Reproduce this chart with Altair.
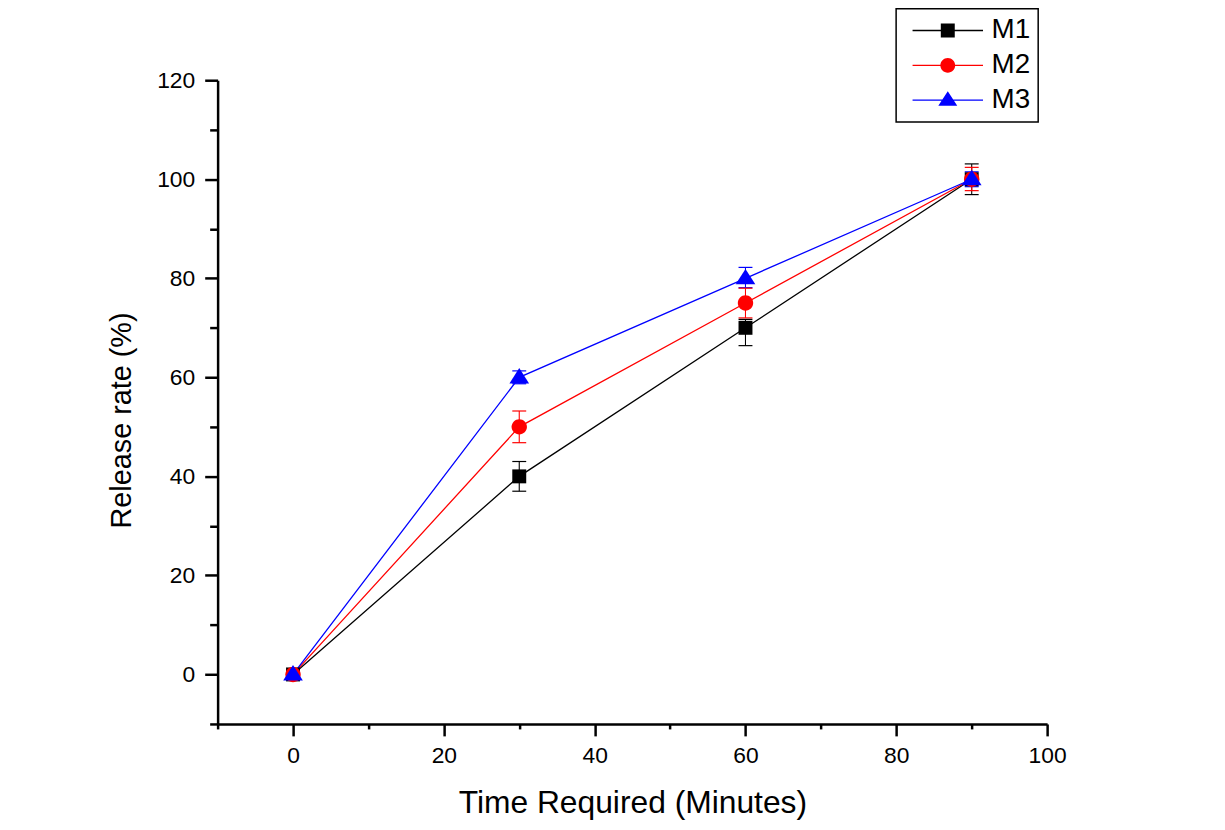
import altair as alt
import pandas as pd

# ---- data ----
time_min = [0, 30, 60, 90]
series_names = ["M1", "M2", "M3"]
m1_rate = [0, 40, 70, 100]
m2_rate = [0, 50, 75, 100]
m3_rate = [0, 60, 80, 100]
m1_low = [-0.5, 37.0, 66.4, 96.9]
m1_high = [0.5, 43.0, 71.7, 103.1]
m2_low = [-0.5, 46.8, 72.0, 97.7]
m2_high = [0.5, 53.2, 78.0, 102.4]
m3_low = [-0.5, 58.7, 78.1, 98.5]
m3_high = [0.5, 61.3, 82.2, 101.5]

x_tick_values = [-10, 0, 10, 20, 30, 40, 50, 60, 70, 80, 90, 100]
y_tick_values = [-10, 0, 10, 20, 30, 40, 50, 60, 70, 80, 90, 100, 110, 120]

# ---- styles ----
series_colors = ["#000000", "#ff0000", "#0000ff"]
marker_paths = [
    "M-0.78,-0.78H0.78V0.78H-0.78Z",
    "M0.86,0A0.86,0.86,0,1,1,-0.86,0A0.86,0.86,0,1,1,0.86,0Z",
    "M0,-1.05L1.1,0.68L-1.1,0.68Z",
]
# legend symbols: thin bar (the line) plus the marker
legend_paths = [
    "M-3.94,-0.075H3.94V0.075H-3.94ZM-0.78,-0.78H0.78V0.78H-0.78Z",
    "M-3.94,-0.075H3.94V0.075H-3.94ZM0.83,0A0.83,0.83,0,1,1,-0.83,0A0.83,0.83,0,1,1,0.83,0Z",
    "M-3.94,-0.075H3.94V0.075H-3.94ZM0,-1.0L1.06,0.63L-1.06,0.63Z",
]

rates = [m1_rate, m2_rate, m3_rate]
lows = [m1_low, m2_low, m3_low]
highs = [m1_high, m2_high, m3_high]
rows = []
for name, r, lo, hi in zip(series_names, rates, lows, highs):
    for t, v, l, h in zip(time_min, r, lo, hi):
        rows.append({"series": name, "t": t, "rate": v, "low": l, "high": h})
df = pd.DataFrame(rows)

FONT = "Liberation Sans"

x_axis = alt.Axis(
    values=x_tick_values,
    labelExpr="datum.value % 20 == 0 ? datum.label : ''",
    format="d",
    title="Time Required (Minutes)",
    titleFontSize=32,
    titleFontWeight="normal",
    titleFont=FONT,
    titleColor="black",
    titleBaseline="alphabetic",
    titleY=89,
    labelFontSize=23,
    labelFont=FONT,
    labelColor="black",
    labelPadding=9,
    labelFlush=False,
    tickSize={"condition": {"test": "datum.value % 20 != 0", "value": 5}, "value": 12},
    tickWidth=2.5,
    tickColor="black",
    domainWidth=2.5,
    domainColor="black",
    grid=False,
)
y_axis = alt.Axis(
    values=y_tick_values,
    labelExpr="datum.value % 20 == 0 ? datum.label : ''",
    format="d",
    title="Release rate (%)",
    titleFontSize=29,
    titleFontWeight="normal",
    titleFont=FONT,
    titleColor="black",
    titleBaseline="alphabetic",
    titleX=-88,
    titleY=342,
    labelFontSize=23,
    labelFont=FONT,
    labelColor="black",
    labelPadding=10,
    labelFlush=False,
    tickSize={"condition": {"test": "datum.value % 20 != 0", "value": 8}, "value": 13},
    tickWidth=2.5,
    tickColor="black",
    domainWidth=2.5,
    domainColor="black",
    grid=False,
)

x_scale = alt.Scale(domain=[-10, 100], nice=False, zero=False)
y_scale = alt.Scale(domain=[-10, 120], nice=False, zero=False)


def X():
    return alt.X("t:Q", scale=x_scale, axis=x_axis)


def Y(field):
    return alt.Y(f"{field}:Q", scale=y_scale, axis=y_axis)


def color_enc(legend=None):
    return alt.Color(
        "series:N",
        scale=alt.Scale(domain=series_names, range=series_colors),
        legend=legend,
    )


base = alt.Chart(df)

lines = base.mark_line(strokeWidth=1.3).encode(
    x=X(), y=Y("rate"), color=color_enc(), order="t:Q"
)

err_rules = base.mark_rule(strokeWidth=1.1, opacity=1).encode(
    x=X(), y=Y("low"), y2="high:Q", color=color_enc()
)

caps_low = base.mark_tick(orient="horizontal", size=14, thickness=1.2, opacity=1).encode(
    x=X(), y=Y("low"), color=color_enc()
)
caps_high = base.mark_tick(orient="horizontal", size=14, thickness=1.2, opacity=1).encode(
    x=X(), y=Y("high"), color=color_enc()
)

points = base.mark_point(filled=True, opacity=1, strokeWidth=0, size=324).encode(
    x=X(),
    y=Y("rate"),
    color=color_enc(),
    shape=alt.Shape("series:N", scale=alt.Scale(domain=series_names, range=marker_paths), legend=None),
)

legend_def = alt.Legend(
    title=None,
    orient="none",
    legendX=683,
    legendY=-72,
    padding=8,
    symbolSize=324,
    symbolStrokeWidth=0,
    symbolOffset=30,
    labelOffset=30,
    rowPadding=7,
    labelFontSize=28,
    labelFont=FONT,
    labelColor="black",
    strokeColor="black",
    fillColor="white",
    cornerRadius=0,
)

legend_layer = base.transform_filter("false").mark_point(
    filled=True, opacity=1, strokeWidth=0, size=324
).encode(
    x=X(),
    y=Y("rate"),
    color=color_enc(legend_def),
    shape=alt.Shape("series:N", scale=alt.Scale(domain=series_names, range=legend_paths), legend=legend_def),
)

chart = (
    alt.layer(lines, err_rules, caps_low, caps_high, points, legend_layer)
    .resolve_scale(shape="independent", color="independent")
    .properties(
        width=835,
        height=648,
        autosize="none",
        padding={"left": 211, "top": 70, "right": 171, "bottom": 96},
        background="white",
    )
    .configure(font=FONT)
    .configure_view(strokeWidth=0, stroke="transparent")
    .configure_legend(strokeWidth=1.5)
)

chart.save("out.html", embed_options={"renderer": "svg", "actions": False})
